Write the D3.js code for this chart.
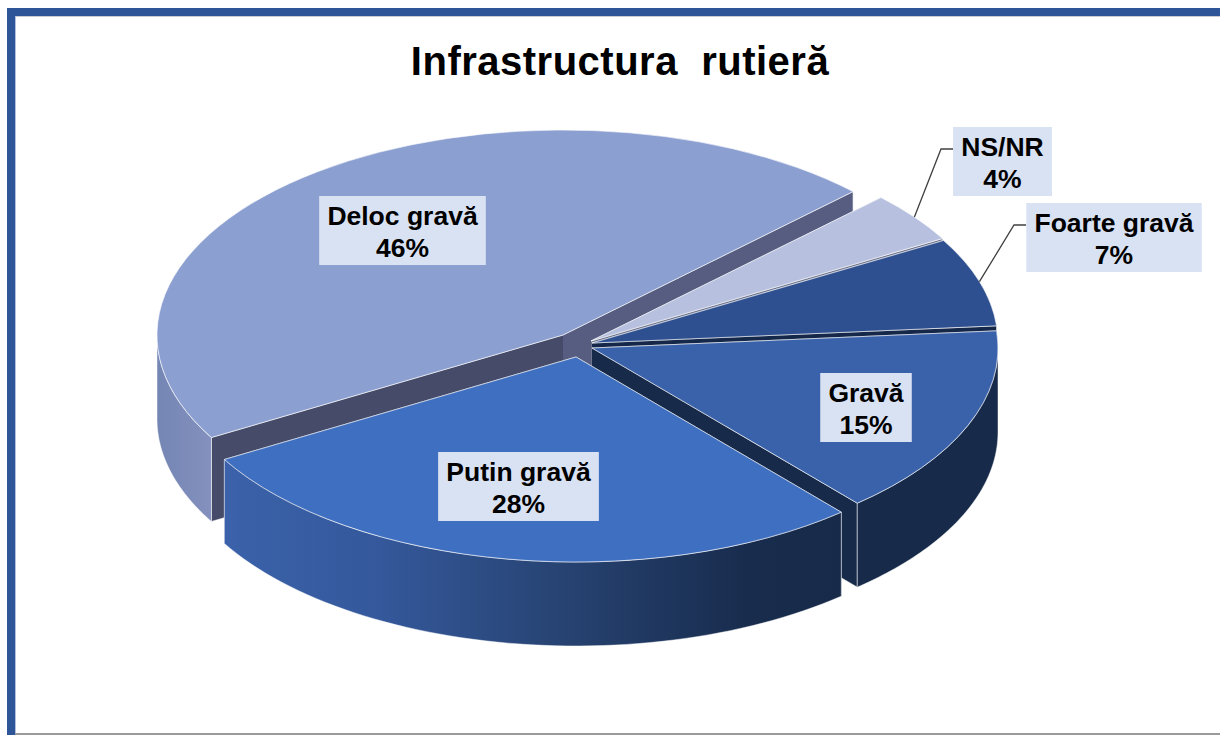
<!DOCTYPE html>
<html><head><meta charset="utf-8">
<script src="https://cdn.jsdelivr.net/npm/d3@7"></script>
<style>
html,body{margin:0;padding:0;background:#fff;overflow:hidden}
svg{display:block}
text{font-family:"Liberation Sans",Arial,sans-serif;font-weight:bold;fill:#000}
</style></head><body>
<script>
const title = "Infrastructura rutieră";
const categories = ["Foarte gravă", "Gravă", "Putin gravă", "Deloc gravă", "NS/NR"];
const values = [7, 15, 28, 46, 4];

// layout and styles, kept apart from the data
const W = 1220, H = 735;
const rx = 406, ry = 205, depth = 84;
const firstAngle = 60;
const centers = [[592,343],[592,348],[576,357],[563,335],[591,341]];
const topColors = ["#2e5090","#3a62aa","#3f6fc0","#8c9fd1","#b7c1df"];
const startWall = ["#16284a","#172a49","#172a49","#454b68","#6f7690"];
const endWall   = ["#16284a","#172a49","#172a49","#565d80","#6f7690"];
const paintOrder = [3,4,0,1,2];
const labelPos = [[1114,203],[866,373],[518.5,452],[402.5,196],[1002.5,127]];
const labelSize = 26.5, boxPad = 8.2, boxH = 69;
const elbows = {4:[[941,149],[953,149]], 0:[[1014,225],[1026,225]]};

const svg = d3.select("body").append("svg").attr("width",W).attr("height",H);
const defs = svg.append("defs");
function hGrad(id,x1,x2,stops){
  const g = defs.append("linearGradient").attr("id",id).attr("gradientUnits","userSpaceOnUse")
    .attr("x1",x1).attr("x2",x2).attr("y1",0).attr("y2",0);
  stops.forEach(s=>g.append("stop").attr("offset",s[0]).attr("stop-color",s[1]));
}
hGrad("wall2",224,840,[[0,"#3b62aa"],[.25,"#34589b"],[.55,"#274372"],[.85,"#182c4d"],[1,"#172a49"]]);
hGrad("wall3",157,211,[[0,"#7486b4"],[1,"#8490bd"]]);
const outerFill = ["#16284a","#172a49","url(#wall2)","url(#wall3)","#b7c1df"];

// frame
svg.append("rect").attr("x",7).attr("y",8).attr("width",W-7).attr("height",8).attr("fill","#2e5597");
svg.append("rect").attr("x",15).attr("y",16).attr("width",W-15).attr("height",1).attr("fill","#c9ccd4");
svg.append("rect").attr("x",7).attr("y",8).attr("width",8).attr("height",H-8).attr("fill","#2e5597");
svg.append("rect").attr("x",15).attr("y",16).attr("width",1).attr("height",H-16).attr("fill","#b4c0e0");
svg.append("rect").attr("x",15).attr("y",733).attr("width",W-15).attr("height",2).attr("fill","#9a9a9a");

// title
svg.append("text").attr("x",620).attr("y",74.5).attr("text-anchor","middle")
  .attr("font-size",40).attr("letter-spacing",.5).style("white-space","pre").text(title.replace(" ","  "));

const rad = d => d*Math.PI/180;
const pie = d3.pie().sort(null).startAngle(rad(firstAngle)).endAngle(rad(firstAngle+360));
const arcs = pie(values);
const px = d3.scaleLinear().domain([-1,1]).range([-rx,rx]);
const py = d3.scaleLinear().domain([-1,1]).range([-ry,ry]);
const rim = (i,a) => [centers[i][0]+px(Math.sin(a)), centers[i][1]+py(-Math.cos(a))];
const line = d3.line();
const topArc = d3.arc().innerRadius(0).outerRadius(rx);
const edge = "rgba(255,255,255,.6)";

const chart = svg.append("g");
paintOrder.forEach(i=>{
  const a = arcs[i], c = centers[i];
  const g = chart.append("g");
  const wall = (ang,col)=>{
    const p = rim(i,ang);
    g.append("path").attr("d",line([c,p,[p[0],p[1]+depth],[c[0],c[1]+depth]]))
      .attr("fill",col).attr("stroke",edge).attr("stroke-width",1);
  };
  wall(a.startAngle,startWall[i]);
  wall(a.endAngle,endWall[i]);
  const lo = Math.max(a.startAngle,Math.PI/2), hi = Math.min(a.endAngle,Math.PI*1.5);
  if(hi>lo){
    const area = d3.area().x(t=>rim(i,t)[0]).y0(t=>rim(i,t)[1]).y1(t=>rim(i,t)[1]+depth);
    g.append("path").attr("d",area(d3.range(0,61).map(k=>lo+(hi-lo)*k/60)))
      .attr("fill",outerFill[i]).attr("stroke",edge).attr("stroke-width",.8);
  }
  g.append("g").attr("transform",`translate(${c[0]},${c[1]}) scale(1,${ry/rx})`)
    .append("path").attr("d",topArc({startAngle:a.startAngle,endAngle:a.endAngle}))
    .attr("fill",topColors[i]).attr("stroke",edge).attr("stroke-width",1)
    .attr("vector-effect","non-scaling-stroke");
});

// leader lines
Object.keys(elbows).forEach(k=>{
  const i=+k, mid=(arcs[i].startAngle+arcs[i].endAngle)/2;
  svg.append("path").attr("d",line([rim(i,mid),...elbows[k]]))
    .attr("fill","none").attr("stroke","#404040").attr("stroke-width",1.3);
});

// labels
categories.forEach((name,i)=>{
  const [cx,top] = labelPos[i];
  const g = svg.append("g");
  const box = g.append("rect");
  const t1 = g.append("text").attr("x",cx).attr("y",top+29).attr("text-anchor","middle").attr("font-size",labelSize).text(name);
  g.append("text").attr("x",cx).attr("y",top+60.5).attr("text-anchor","middle").attr("font-size",labelSize).text(values[i]+"%");
  const w = t1.node().getComputedTextLength();
  box.attr("x",cx-w/2-boxPad).attr("y",top).attr("width",w+2*boxPad).attr("height",boxH).attr("fill","#d9e2f3");
});
</script></body></html>
